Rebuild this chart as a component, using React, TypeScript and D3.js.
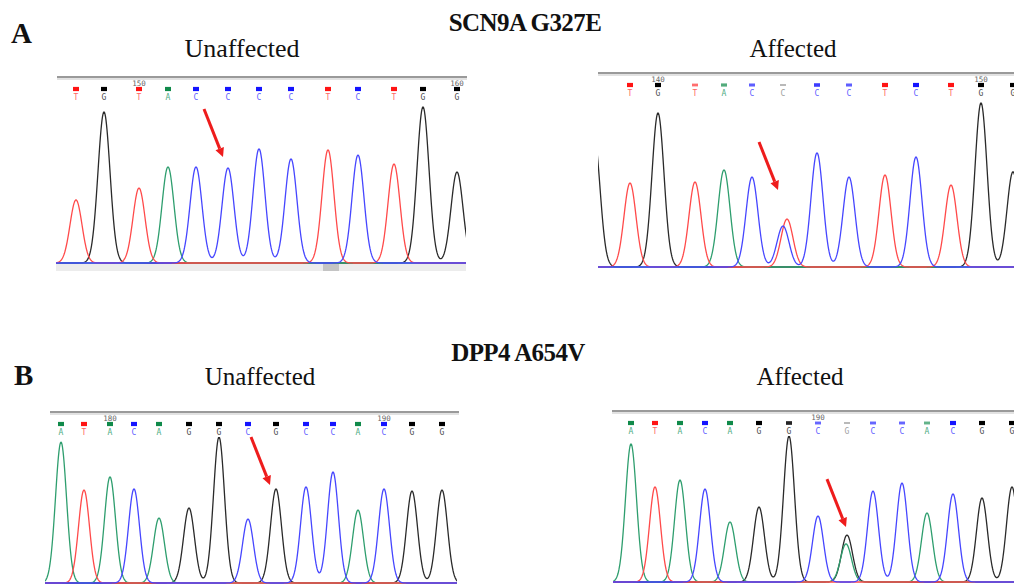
import React, { useRef, useEffect } from "react";
import { select, scaleLinear, line, range } from "d3";

// trace + label colours (sequencer style)
const traceColor: Record<string, string> = { A: "#2e9e6e", C: "#4646ff", G: "#2a2a2a", T: "#ff4a4a" };
const callColor: Record<string, string> = { A: "#108a4a", C: "#1414ff", G: "#000000", T: "#ff1414" };

// --- SCN9A G327E, unaffected
const scnUnaffBases = ["T", "G", "T", "A", "C", "C", "C", "C", "T", "C", "T", "G", "G"];
const scnUnaffScans = [20, 48, 83, 112, 140, 172, 203, 235, 272, 302, 338, 367, 401];
const scnUnaffSignal = [371, 888, 441, 565, 565, 559, 671, 612, 665, 635, 582, 918, 535];
const scnUnaffQual = [1, 1, 1, 1, 1, 1, 1, 1, 1, 1, 1, 1, 1];

// --- SCN9A G327E, affected
const scnAffBases = ["T", "G", "T", "A", "C", "C", "C", "C", "T", "C", "T", "G", "G"];
const scnAffScans = [32, 60, 97, 126, 154, 185, 219, 251, 287, 318, 353, 383, 415];
const scnAffSignal = [494, 906, 500, 571, 529, 241, 671, 529, 541, 647, 482, 965, 560];
const scnAffQual = [1, 1, 0.45, 0.6, 0.55, 0.1, 0.75, 0.55, 1, 1, 1, 1, 1];
const scnAffExtraBases = ["G", "T"];
const scnAffExtraScans = [-4, 189];
const scnAffExtraSignal = [770, 282];

// --- DPP4 A654V, unaffected
const dppUnaffBases = ["A", "T", "A", "C", "A", "G", "G", "C", "G", "C", "C", "A", "C", "G", "G"];
const dppUnaffScans = [16, 39, 65, 89, 114, 144, 174, 203, 231, 261, 288, 313, 339, 367, 397];
const dppUnaffSignal = [829, 547, 624, 553, 382, 441, 859, 376, 553, 565, 653, 429, 553, 541, 547];
const dppUnaffQual = [1, 1, 1, 1, 1, 1, 1, 1, 1, 1, 1, 1, 1, 1, 1];

// --- DPP4 A654V, affected
const dppAffBases = ["A", "T", "A", "C", "A", "G", "G", "C", "G", "C", "C", "A", "C", "G", "G"];
const dppAffScans = [18, 42, 67, 92, 117, 146, 176, 205, 234, 260, 289, 314, 340, 369, 399];
const dppAffSignal = [812, 559, 600, 547, 353, 441, 859, 388, 276, 535, 582, 406, 518, 494, 559];
const dppAffQual = [1, 1, 1, 1, 1, 1, 0.8, 0.5, 0.1, 0.5, 0.5, 0.5, 1, 1, 1];
const dppAffExtraBases = ["A"];
const dppAffExtraScans = [233];
const dppAffExtraSignal = [224];

const panels = [
  {
    key: "scnU", bases: scnUnaffBases, scans: scnUnaffScans, signal: scnUnaffSignal, qual: scnUnaffQual,
    extraBases: [], extraScans: [], extraSignal: [], start: 148,
    x0: 56, x1: 466, scanMax: 410, baseY: 263, ruleY: 77, ruleX: [57, 467], sigma: 6,
    gutter: true, arrow: { i: 5, dx: -5, dy: -11 },
  },
  {
    key: "scnA", bases: scnAffBases, scans: scnAffScans, signal: scnAffSignal, qual: scnAffQual,
    extraBases: scnAffExtraBases, extraScans: scnAffExtraScans, extraSignal: scnAffExtraSignal, start: 139,
    x0: 598, x1: 1014, scanMax: 416, baseY: 267, ruleY: 73, ruleX: [598, 1014], sigma: 6,
    gutter: false, arrow: { i: 5, dx: -5, dy: -36 },
  },
  {
    key: "dppU", bases: dppUnaffBases, scans: dppUnaffScans, signal: dppUnaffSignal, qual: dppUnaffQual,
    extraBases: [], extraScans: [], extraSignal: [], start: 178,
    x0: 45, x1: 457, scanMax: 412, baseY: 583, ruleY: 412, ruleX: [50, 459], sigma: 5.5,
    gutter: false, arrow: { i: 8, dx: -6, dy: -4 },
  },
  {
    key: "dppA", bases: dppAffBases, scans: dppAffScans, signal: dppAffSignal, qual: dppAffQual,
    extraBases: dppAffExtraBases, extraScans: dppAffExtraScans, extraSignal: dppAffExtraSignal, start: 183,
    x0: 613, x1: 1014, scanMax: 401, baseY: 582, ruleY: 411, ruleX: [612, 1014], sigma: 5.5,
    gutter: false, arrow: { i: 8, dx: -1, dy: -8 },
  },
];

const serif = "'Liberation Serif', 'Times New Roman', serif";

function drawPanel(svg: any, p: any) {
  const x = scaleLinear().domain([0, p.scanMax]).range([p.x0, p.x1]);
  const y = scaleLinear().domain([0, 1000]).range([p.baseY, p.baseY - 170]);
  const g = svg.append("g");
  const clipId = "clip-" + p.key;
  svg.append("defs").append("clipPath").attr("id", clipId)
    .append("rect").attr("x", p.x0).attr("y", p.ruleY + 25)
    .attr("width", p.x1 - p.x0).attr("height", p.baseY - p.ruleY);

  // top rule
  g.append("rect").attr("x", p.ruleX[0]).attr("y", p.ruleY - 1).attr("width", p.ruleX[1] - p.ruleX[0]).attr("height", 2).attr("fill", "#9a9a9a");
  g.append("rect").attr("x", p.ruleX[0]).attr("y", p.ruleY + 1).attr("width", p.ruleX[1] - p.ruleX[0]).attr("height", 2).attr("fill", "#e2e2e2");

  if (p.gutter) {
    g.append("rect").attr("x", p.x0).attr("y", p.baseY + 1).attr("width", p.x1 - p.x0).attr("height", 7).attr("fill", "#ececec");
    g.append("rect").attr("x", x(267)).attr("y", p.baseY + 1).attr("width", 16).attr("height", 7).attr("fill", "#c4c4c4");
  }

  // traces, one per dye channel
  const peaks = p.bases.map((b: string, i: number) => ({ base: b, scan: p.scans[i], signal: p.signal[i] }))
    .concat(p.extraBases.map((b: string, i: number) => ({ base: b, scan: p.extraScans[i], signal: p.extraSignal[i] })));
  const samples = range(-25, p.scanMax + 25, 0.5);
  const path = line<[number, number]>().x(d => x(d[0])).y(d => y(d[1]));
  ["G", "A", "T", "C"].forEach(ch => {
    const own = peaks.filter((d: any) => d.base === ch);
    const pts: [number, number][] = samples.map(s => [s, own.reduce((acc: number, d: any) =>
      acc + d.signal * Math.exp(-((s - d.scan) ** 2) / (2 * p.sigma * p.sigma)), 0)]);
    g.append("path").datum(pts).attr("clip-path", `url(#${clipId})`)
      .attr("d", path).attr("fill", "none").attr("stroke", traceColor[ch])
      .attr("stroke-width", 1.3).attr("stroke-linejoin", "round");
  });

  // base calls
  p.bases.forEach((b: string, i: number) => {
    const cx = x(p.scans[i]);
    const q = p.qual[i];
    const h = 1.6 + 2.6 * q;
    g.append("rect").attr("x", cx - 3).attr("y", p.ruleY + 12 - h / 2).attr("width", 6).attr("height", h)
      .attr("fill", q < 0.2 ? "#b4b4b4" : callColor[b]).attr("opacity", q < 0.2 ? 1 : 0.3 + 0.7 * q);
    g.append("text").attr("x", cx).attr("y", p.ruleY + 22.5).attr("text-anchor", "middle")
      .attr("font-family", "'DejaVu Sans Mono', monospace").attr("font-size", 8)
      .attr("fill", q < 0.2 ? "#909090" : traceColor[b]).attr("opacity", 0.85).text(b);
    const num = p.start + i;
    if (num % 10 === 0) {
      g.append("text").attr("x", cx).attr("y", p.ruleY + 8.5).attr("text-anchor", "middle")
        .attr("font-family", "'DejaVu Sans Mono', monospace").attr("font-size", 7.5)
        .attr("fill", "#666").text(num);
    }
  });

  // arrow onto the variant position
  const ex = x(p.scans[p.arrow.i]) + p.arrow.dx;
  const ey = y(p.signal[p.arrow.i]) + p.arrow.dy;
  const sx = ex - 19, sy = ey - 48;
  const ang = Math.atan2(ey - sy, ex - sx);
  const hl = 9, hw = 4.5;
  const bx = ex - hl * Math.cos(ang), by = ey - hl * Math.sin(ang);
  g.append("line").attr("x1", sx).attr("y1", sy).attr("x2", bx).attr("y2", by)
    .attr("stroke", "#ee1c1c").attr("stroke-width", 3);
  g.append("polygon").attr("fill", "#ee1c1c").attr("points", [
    [ex, ey],
    [bx + hw * Math.sin(ang), by - hw * Math.cos(ang)],
    [bx - hw * Math.sin(ang), by + hw * Math.cos(ang)],
  ].map(d => d.join(",")).join(" "));
}

export default function App() {
  const svgRef = useRef<SVGSVGElement>(null);

  useEffect(() => {
    const svg = select(svgRef.current);
    svg.selectAll("*").remove();
    svg.append("rect").attr("width", 1014).attr("height", 584).attr("fill", "#fff");

    const heads = [
      { t: "A", x: 11, y: 43, size: 29, bold: true, anchor: "start" },
      { t: "SCN9A G327E", x: 525, y: 31, size: 25, bold: true, anchor: "middle" },
      { t: "Unaffected", x: 242, y: 57, size: 26, bold: false, anchor: "middle" },
      { t: "Affected", x: 793, y: 57, size: 25, bold: false, anchor: "middle" },
      { t: "B", x: 14, y: 385, size: 29, bold: true, anchor: "start" },
      { t: "DPP4 A654V", x: 518, y: 361, size: 25, bold: true, anchor: "middle" },
      { t: "Unaffected", x: 260, y: 385, size: 25, bold: false, anchor: "middle" },
      { t: "Affected", x: 800, y: 385, size: 25, bold: false, anchor: "middle" },
    ];
    svg.selectAll(".head").data(heads).join("text").attr("class", "head")
      .attr("x", d => d.x).attr("y", d => d.y).attr("text-anchor", d => d.anchor)
      .attr("font-family", serif).attr("font-size", d => d.size)
      .attr("font-weight", d => (d.bold ? "bold" : "normal"))
      .attr("letter-spacing", d => (d.bold && d.t.length > 1 ? -0.6 : 0))
      .attr("fill", "#111").text(d => d.t);

    panels.forEach(p => drawPanel(svg, p));
  }, []);

  return (
    <svg ref={svgRef} width={1014} height={584}
      style={{ position: "absolute", left: 0, top: 0, display: "block" }} />
  );
}
